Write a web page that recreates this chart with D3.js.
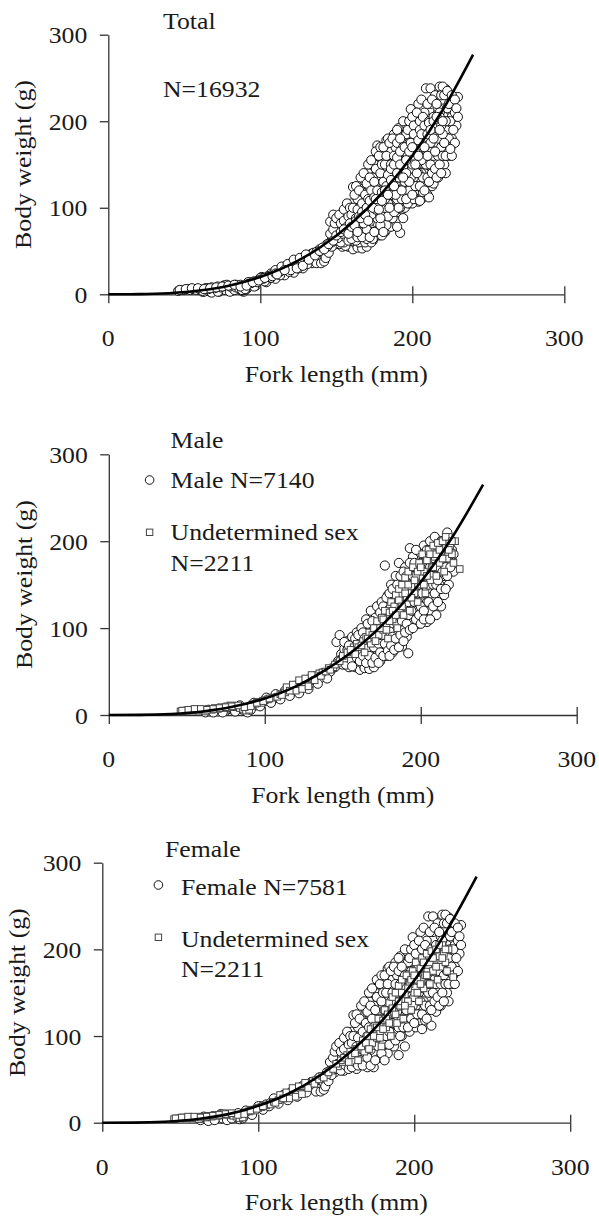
<!DOCTYPE html>
<html>
<head>
<meta charset="utf-8">
<script src="https://cdn.jsdelivr.net/npm/d3@7"></script>
<style>
  html, body { margin: 0; padding: 0; background: #fff; }
  svg { display: block; }
  text { font-family: "Liberation Serif", "Times New Roman", serif; font-size: 23px; fill: #1a1a1a; }
</style>
</head>
<body>
<svg id="chart" width="599" height="1218"></svg>
<script>
// Axis ticks
const xTicks = [0, 100, 200, 300];
const yTicks = [0, 100, 200, 300];

// Fork length (mm) / body weight (g) of sampled fish
const maleFish = [
  [62,3],[65,4],[68,5],[70,4],[72,6],[75,5],[78,7],[80,6],[82,8],[85,7],[87,5],[89,3],[90,9],[92,10],[94,11],[96,13],
  [98,15],[100,16],[103,18],[106,19],[109,22],[112,24],[115,25],[118,27],[121,29],[124,31],[127,34],[130,37],[133,40],
  [136,43],[139,46],[142,50],
  [64,6],[67,3],[73,3],[77,9],[81,4],[84,11],[88,8],[91,6],[93,14],[97,10],[101,20],[104,14],[107,24],[110,18],
  [113,28],[116,22],[119,31],[122,25],[125,35],[128,30],[131,40],[134,36],[137,48],[140,42],
  [145,55],[146,84],[148,92],[147,62],[149,70],[150,58],[151,76],[152,65],[153,85],[154,55],
  [155,72],[156,90],[157,62],[158,80],[158,55],[159,95],[160,56],[161,70],[161,52],[162,100],[162,86],[163,58],[164,76],
  [164,54],[165,110],[165,92],[166,65],[167,82],[167,53],[168,120],[168,100],[169,70],[170,88],[170,55],[171,112],
  [172,125],[172,75],[173,95],[174,62],[175,105],[175,130],[176,80],[177,172],[177,115],[178,68],[178,95],[179,138],
  [180,85],[180,120],[181,105],[181,150],[182,72],[183,130],[183,95],[184,160],[184,112],[185,82],[186,140],[186,175],
  [187,100],[187,120],[188,79],[188,155],[189,135],[190,170],[190,110],[191,90],[192,71],[192,148],[193,192],[193,125],
  [194,160],[194,100],[195,182],[195,138],[196,115],[197,170],[197,150],[198,105],[199,188],[199,128],[200,160],
  [200,140],[201,118],[202,195],[202,175],[203,150],[204,107],[204,130],[205,185],[205,165],[206,200],[206,120],
  [207,145],[208,178],[209,205],[209,160],[210,135],[210,115],[211,190],[211,170],[212,150],[213,200],[213,125],
  [214,182],[215,138],[215,160],[216,195],[217,210],[217,172],[218,150],[219,188],[220,178],[220,200],[221,165],
  [150,66],[151,84],[152,58],[153,75],[154,80],[155,64],[156,56],[157,72],[158,88],[159,66],[160,80],[160,92],
  [161,62],[162,74],[163,95],[163,68],[164,88],[165,60],[166,78],[166,105],[167,68],[168,90],[169,60],[169,108],
  [170,98],[170,78],[171,66],[171,92],[172,102],[173,60],[173,82],[174,118],[174,72],[175,92],[176,68],[176,125],
  [177,100],[177,82],[178,110],[178,135],[179,74],[179,120],[180,96],[180,140],[180,68],
  [181,80],[181,125],[182,90],[182,145],[183,110],[183,75],[184,130],[184,88],[185,150],[185,105],[186,120],[186,78],
  [187,160],[187,92],[188,140],[188,108],[189,85],[189,165],[190,125],[190,95],[190,145],
  [191,105],[191,160],[192,130],[192,115],[193,175],[193,98],[194,140],[194,120],[195,100],[195,160],[196,130],
  [196,175],[197,110],[197,190],[198,140],[198,160],[199,115],[199,150],[200,175],[200,125],[200,105],
  [201,140],[201,160],[202,120],[202,110],[203,185],[203,165],[204,145],[204,190],[205,130],[205,150],[206,170],
  [206,110],[207,160],[207,190],[208,125],[208,150],[209,140],[209,180],[210,170],[210,195],[210,150],
  [211,130],[211,155],[212,185],[212,170],[213,145],[214,165],[214,200],[215,180],[216,145],[216,170],[217,160],
  [218,185],[218,200],[219,170],[220,190],[221,185]
];

const femaleFish = [
  [63,3],[66,5],[69,4],[71,6],[74,7],[77,5],[79,8],[81,7],[84,9],[86,6],[88,4],[91,8],[93,11],[95,12],[97,14],[99,16],
  [102,19],[105,21],[108,23],[111,25],[114,27],[117,30],[120,32],[123,34],[126,36],[129,38],[132,41],[135,44],[138,39],
  [65,7],[68,2],[72,3],[76,10],[80,3],[83,5],[87,11],[90,5],[92,14],[96,9],[100,19],[103,15],[107,19],[110,28],
  [113,22],[116,32],[119,26],[122,37],[125,30],[128,42],[131,35],[134,47],[137,36],[139,52],
  [140,36],[142,38],[141,48],[144,52],[146,60],[148,65],[149,58],[150,72],[151,62],[152,80],[153,70],[154,90],[155,60],
  [156,78],[157,95],[158,68],[159,85],[160,105],[161,124],[161,74],[162,92],[163,62],[164,110],[164,82],[165,70],
  [166,100],[167,118],[167,88],[168,75],[169,130],[169,96],[170,64],[170,112],[171,140],[172,84],[172,122],[173,100],
  [174,64],[174,135],[175,150],[175,112],[176,90],[177,160],[177,125],[178,75],[178,145],[179,105],[180,170],[180,135],
  [181,92],[181,155],[182,118],[183,178],[183,80],[184,145],[184,180],[185,125],[186,165],[186,100],[187,88],[187,150],
  [188,185],[188,135],[189,112],[189,170],[190,78],[190,155],[191,192],[191,125],[192,140],[192,100],[193,178],
  [193,165],[194,88],[194,150],[195,198],[195,118],[196,185],[196,132],[197,160],[197,105],[198,175],[198,145],
  [199,214],[199,120],[200,190],[200,165],[201,135],[201,110],[202,205],[202,178],[203,150],[203,125],[204,220],
  [204,195],[205,165],[205,108],[206,225],[206,140],[207,185],[207,118],[208,210],[208,160],[209,238],[209,130],
  [210,195],[210,175],[211,150],[211,112],[212,238],[212,220],[213,185],[213,165],[214,140],[214,128],[215,205],
  [215,230],[216,175],[216,155],[217,215],[217,135],[218,240],[218,195],[219,170],[219,160],[220,225],[220,185],
  [221,205],[221,150],[222,237],[222,140],[223,215],[223,175],[224,195],[224,160],[225,220],[226,205],[226,180],
  [227,225],[228,210],[229,195],[230,228],
  [143,42],[144,58],[145,48],[146,70],[147,55],[148,75],[149,82],[150,62],[150,88],
  [151,68],[152,92],[153,60],[153,82],[154,72],[155,98],[155,85],[156,66],[157,75],[157,105],[158,90],[158,62],
  [159,72],[159,100],[160,78],[160,92],[160,64],
  [161,100],[162,70],[162,115],[163,88],[163,125],[164,66],[164,98],[165,120],[165,85],[166,72],[166,135],[167,105],
  [167,66],[168,92],[168,140],[169,80],[169,115],[170,100],[170,128],[170,75],
  [171,88],[171,110],[171,150],[172,66],[172,100],[172,135],[173,120],[173,155],[174,90],[174,110],[175,72],[175,130],
  [176,105],[176,145],[176,165],[177,88],[177,110],[178,120],[178,160],[178,100],[179,80],[179,140],[179,170],
  [180,110],[180,150],[180,90],
  [181,72],[181,130],[181,170],[182,100],[182,150],[183,120],[183,160],[184,90],[184,105],[185,140],[185,175],
  [186,115],[186,150],[187,130],[187,180],[188,95],[188,160],[189,128],[189,150],[190,110],[190,175],[190,190],[190,135],
  [191,100],[191,160],[192,180],[192,120],[193,110],[193,140],[194,200],[194,170],[195,130],[195,155],[196,110],
  [196,170],[197,190],[197,140],[198,120],[198,200],[199,160],[199,135],[200,205],[200,145],[200,115],
  [201,155],[201,195],[202,125],[202,165],[203,210],[203,180],[204,140],[204,165],[205,200],[205,125],[206,180],
  [206,155],[207,205],[207,135],[208,190],[208,120],[209,175],[209,150],[210,220],[210,135],[210,160],
  [211,200],[211,130],[212,180],[212,150],[213,225],[213,140],[214,205],[214,160],[215,190],[215,145],[216,220],
  [216,135],[217,185],[217,160],[218,210],[218,150],[219,230],[219,140],[220,200],[220,160],[220,240],
  [221,230],[221,175],[222,190],[222,160],[223,235],[223,200],[224,180],[224,220],[225,170],[225,200],[226,230],
  [226,160],[227,190],[228,225],[228,175],[229,215],[230,205]
];

const undeterminedFish = [
  [46,4],[48,5],[50,5],[52,6],[54,5],[56,6],[58,5],[60,6],[62,4],[64,7],[66,6],[68,8],[70,7],[72,9],[74,8],[76,10],
  [78,11],[80,9],[82,10],[84,8],[86,7],[88,5],[90,6],[92,12],[94,13],[96,15],[98,14],[100,17],[102,18],[105,20],
  [47,5],[51,6],[55,7],[59,7],[63,6],[67,7],[71,8],[75,9],[79,10],[83,11],[87,9],[91,10],[95,14],[99,16],[103,19],
  [108,21],[110,24],[113,26],[115,29],[117,31],[119,33],[121,35],[123,38],[125,37],[127,40],[129,42],[131,44],
  [133,46],[135,48],[137,49],[114,32],[118,35],[122,40],[126,42],[130,46],[120,28],[124,30],[128,33],
  [111,23],[116,28],[132,40],[136,45],[139,50],[141,54],[144,55],[147,60],[151,65],[154,70],[157,78],[159,82],
  [142,52],[145,58],[148,62],[150,68],[153,72],[155,75],[158,70],
  [160,78],[163,85],[165,90],[167,95],[168,82],[170,100],[172,108],[173,92],[175,112],[176,98],[177,120],[178,105],
  [179,88],[180,118],[181,130],[182,110],[183,125],[184,138],[185,100],[186,145],[187,128],[188,150],[189,115],
  [190,158],[191,135],[192,165],[193,120],[194,148],[195,170],[196,140],[197,160],[198,130],[199,175],[200,150],
  [201,185],[202,165],[203,140],[204,178],[205,190],[206,155],[207,170],[208,195],[209,182],[210,160],[211,198],
  [212,175],[213,188],[214,200],[215,165],[216,192],[217,180],[218,205],[219,195],[220,185],[222,200],[225,168],
  [162,80],[164,72],[166,88],[169,92],[171,85],[174,100],[176,110],[178,98],[180,108],[182,120],[184,115],[186,132],
  [188,125],[190,140],[192,150],[194,135],[196,155],[198,165],[200,170],[202,150],[204,160],[206,185],[208,170],
  [210,185],[212,190],[214,180],[216,205],[218,190],[220,200],[221,175]
];

// Fitted length-weight curves (weight in g at each fork length)
const curveLength        = [0, 20, 40, 60, 80, 100, 120, 140, 160, 180, 200, 220, 240];
const totalCurveWeight   = [0, 0.2, 1.3, 4.3, 10.2, 20, 34.5, 55, 82, 117, 160, 213, 277];
const maleCurveWeight    = [0, 0.15, 1.2, 4.1, 9.8, 19, 33, 53, 78.5, 112, 153, 204, 265];
const femaleCurveWeight  = [0, 0.1, 1.1, 3.9, 9.6, 19.5, 34, 55, 83, 119, 164, 219, 284];

// Panel texts
const panelTitles  = ["Total", "Male", "Female"];
const circleLabels = ["N=16932", "Male N=7140", "Female N=7581"];
const squareLabel  = ["Undetermined sex", "N=2211"];
const xTitle = "Fork length (mm)";
const yTitle = "Body weight (g)";

const SX = 1.12; // horizontal widening of the serif lettering
const svg = d3.select("#chart");

function label(g, x, y, txt, anchor, rotate) {
  g.append("text")
    .attr("transform", `translate(${x},${y})${rotate ? " rotate(-90)" : ""} scale(${SX},1)`)
    .attr("text-anchor", anchor || "start")
    .text(txt);
}

const panels = [
  { x0: 108.3, x1: 564.3, yTop: 34.7,  yBot: 294.3,  curve: totalCurveWeight },
  { x0: 108.8, x1: 576.7, yTop: 454.3, yBot: 715.0,  curve: maleCurveWeight },
  { x0: 102.3, x1: 570.2, yTop: 862.7, yBot: 1122.7, curve: femaleCurveWeight }
];

const totalFish = maleFish.concat(femaleFish, undeterminedFish);

panels.forEach((p, i) => {
  const g = svg.append("g");
  const x = d3.scaleLinear().domain([0, 300]).range([p.x0, p.x1]);
  const y = d3.scaleLinear().domain([0, 300]).range([p.yBot, p.yTop]);

  // Axes: outward ticks on y, crossing ticks on x
  const axColor = "#333";
  const yAx = g.append("g").attr("transform", `translate(${p.x0},0)`)
    .call(d3.axisLeft(y).tickValues(yTicks).tickSize(8.5).tickSizeOuter(0).tickFormat(""));
  const xAx = g.append("g").attr("transform", `translate(0,${p.yBot})`)
    .call(d3.axisBottom(x).tickValues(xTicks).tickSize(9).tickSizeOuter(0).tickFormat(""));
  const xAxUp = g.append("g").attr("transform", `translate(0,${p.yBot})`)
    .call(d3.axisTop(x).tickValues(xTicks.filter(v => v > 0)).tickSize(8).tickSizeOuter(0).tickFormat(""));
  xAxUp.select(".domain").remove();
  [yAx, xAx, xAxUp].forEach(a => {
    a.selectAll("path,line").attr("stroke", axColor).attr("stroke-width", 1.3);
  });

  // Tick labels
  yTicks.forEach(v => label(g, p.x0 - 21, y(v) + 8.5, String(v), "end"));
  xTicks.forEach(v => label(g, x(v), p.yBot + 52, String(v), "middle"));

  // Axis titles
  label(g, (p.x0 + p.x1) / 2, p.yBot + 87.5, xTitle, "middle");
  label(g, p.x0 - 77, (p.yTop + p.yBot) / 2, yTitle, "middle", true);

  // Points
  const circles = i === 0 ? totalFish : (i === 1 ? maleFish : femaleFish);
  g.append("g").selectAll("circle").data(circles).join("circle")
    .attr("cx", d => x(d[0])).attr("cy", d => y(d[1])).attr("r", 4.6)
    .attr("fill", "#fff").attr("stroke", "#111").attr("stroke-width", 1);
  if (i > 0) {
    g.append("g").selectAll("rect").data(undeterminedFish).join("rect")
      .attr("x", d => x(d[0]) - 3.3).attr("y", d => y(d[1]) - 3.3)
      .attr("width", 6.6).attr("height", 6.6)
      .attr("fill", "#fff").attr("stroke", "#444").attr("stroke-width", 1);
  }

  // Fitted curve
  const line = d3.line().x(d => x(d[0])).y(d => y(d[1])).curve(d3.curveMonotoneX);
  g.append("path").datum(curveLength.map((L, k) => [L, p.curve[k]]))
    .attr("d", line).attr("fill", "none").attr("stroke", "#000").attr("stroke-width", 2.6);
});

// Panel annotations and legends
const P = svg.append("g");
label(P, 163, 29.3, panelTitles[0]);
label(P, 163, 96.7, circleLabels[0]);

label(P, 170.6, 448.3, panelTitles[1]);
P.append("circle").attr("cx", 149.6).attr("cy", 480).attr("r", 4.3)
  .attr("fill", "#fff").attr("stroke", "#111").attr("stroke-width", 1);
label(P, 170.6, 488.3, circleLabels[1]);
P.append("rect").attr("x", 149.6 - 3.2).attr("y", 532.3 - 3.2).attr("width", 6.4).attr("height", 6.4)
  .attr("fill", "#fff").attr("stroke", "#444").attr("stroke-width", 1);
label(P, 170.6, 540, squareLabel[0]);
label(P, 170.6, 570.7, squareLabel[1]);

label(P, 165, 856.7, panelTitles[2]);
P.append("circle").attr("cx", 158.4).attr("cy", 885).attr("r", 4.3)
  .attr("fill", "#fff").attr("stroke", "#111").attr("stroke-width", 1);
label(P, 181, 895, circleLabels[2]);
P.append("rect").attr("x", 158.4 - 3.2).attr("y", 937.3 - 3.2).attr("width", 6.4).attr("height", 6.4)
  .attr("fill", "#fff").attr("stroke", "#444").attr("stroke-width", 1);
label(P, 181, 947.3, squareLabel[0]);
label(P, 181, 976.7, squareLabel[1]);
</script>
</body>
</html>
